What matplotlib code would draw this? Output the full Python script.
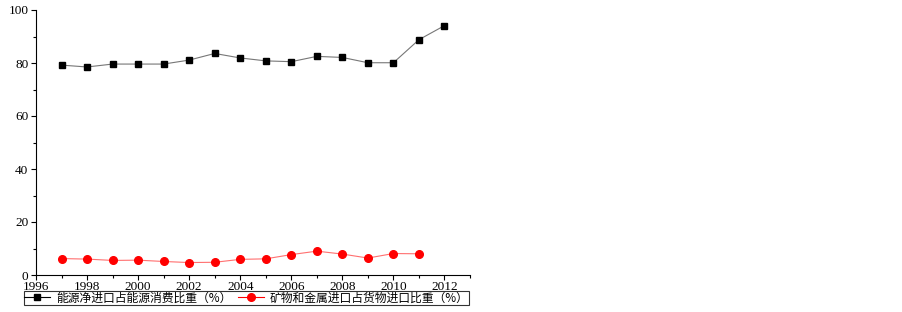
import matplotlib.pyplot as plt
from matplotlib.ticker import MultipleLocator

# Data
years_energy = [1997, 1998, 1999, 2000, 2001, 2002, 2003, 2004, 2005, 2006,
                2007, 2008, 2009, 2010, 2011, 2012]
energy_share = [79.2, 78.5, 79.6, 79.6, 79.6, 81.1, 83.6, 81.9, 80.8, 80.5,
                82.5, 82.1, 80.1, 80.1, 88.8, 94.1]

years_metal = [1997, 1998, 1999, 2000, 2001, 2002, 2003, 2004, 2005, 2006,
               2007, 2008, 2009, 2010, 2011]
metal_share = [6.2, 6.0, 5.5, 5.6, 5.1, 4.7, 4.8, 5.9, 6.1, 7.7,
               9.0, 7.9, 6.4, 8.1, 8.0]

label_energy = '能源净进口占能源消费比重（%）'
label_metal = '矿物和金属进口占货物进口比重（%）'

fig = plt.figure(figsize=(9.03, 3.12), dpi=100)
ax = fig.add_axes([36 / 903, 1 - 275 / 312, 434 / 903, 265 / 312])

ax.plot(years_energy, energy_share, color='#777777', lw=0.8,
        marker='s', ms=5, mfc='black', mec='black', label=label_energy)
ax.plot(years_metal, metal_share, color='#ff7070', lw=0.8,
        marker='o', ms=5.5, mfc='red', mec='red', label=label_metal)

ax.set_xlim(1996, 2013)
ax.set_ylim(0, 100)
ax.xaxis.set_major_locator(MultipleLocator(2))
ax.xaxis.set_minor_locator(MultipleLocator(1))
ax.yaxis.set_major_locator(MultipleLocator(20))
ax.yaxis.set_minor_locator(MultipleLocator(10))
ax.tick_params(which='major', direction='out', length=3.5, width=0.8,
               labelsize=9.5, pad=2)
ax.tick_params(axis='x', which='major', pad=0.5)
ax.tick_params(which='minor', direction='out', length=2, width=0.8)
for lab in ax.get_xticklabels() + ax.get_yticklabels():
    lab.set_fontfamily('Liberation Serif')
ax.spines['top'].set_visible(False)
ax.spines['right'].set_visible(False)

handles, labels = ax.get_legend_handles_labels()
leg = fig.legend(handles, labels, loc='lower left', ncol=2,
                 bbox_to_anchor=(18 / 903, 1 - 311 / 312, 457 / 903, 15 / 312),
                 mode='expand', frameon=True, fancybox=False,
                 borderpad=0.05, handlelength=2.2, handletextpad=0.5,
                 columnspacing=1.5,
                 prop={'family': ['Noto Sans CJK SC', 'DejaVu Sans'], 'size': 8.5})
leg.get_frame().set_edgecolor('black')
leg.get_frame().set_linewidth(0.8)
for line in leg.get_lines():
    line.set_color(line.get_markerfacecolor())

fig.savefig('out.png', dpi=100)
